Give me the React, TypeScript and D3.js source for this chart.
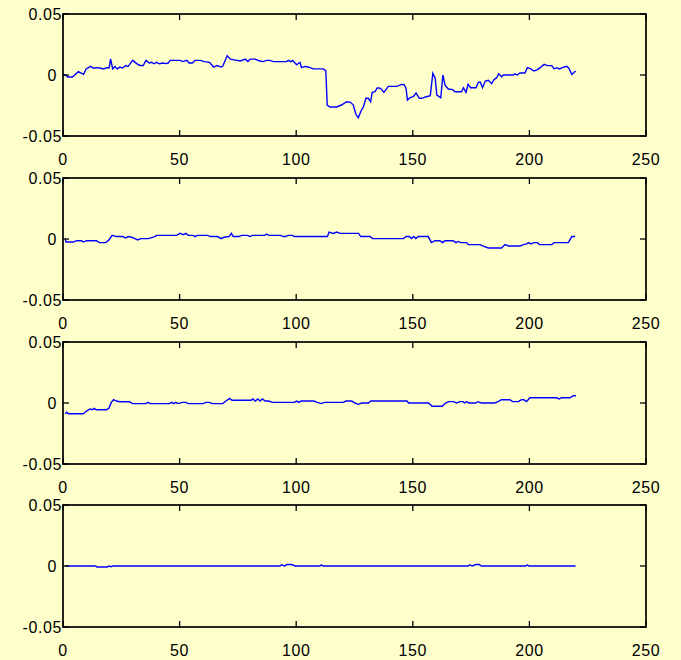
import * as d3 from "d3";

const xTicks = [0, 50, 100, 150, 200, 250];
const yTicks = [-0.05, 0, 0.05];
const yTickLabels = ["-0.05", "0", "0.05"];

const p1X = [0, 1, 2, 4, 6.6, 8.8, 9.9, 11.9, 13, 14.4, 16.1, 17.5, 18.7, 19.8, 20.4, 21.3, 22.3, 23.3, 24.4, 25.5, 26.9, 27.9, 28.6, 29.9, 31.6, 33, 34.4, 35.6, 37, 38, 39, 40.1, 41.3, 42.9, 44.2, 45.1, 45.9, 50.2, 51.3, 53.1, 54.1, 55.5, 56.6, 58.9, 60.6, 62.8, 64.6, 66.1, 67.8, 68.5, 70.4, 71.8, 74.6, 76, 78.2, 79.3, 80.3, 82.3, 84.4, 85.8, 87.3, 88.7, 90.2, 95.9, 96.6, 97.6, 98.5, 99.5, 100.2, 101.6, 102.3, 103.7, 105.1, 107.3, 111.6, 112.7, 113.3, 114.5, 117.3, 119.4, 121.6, 123.3, 124.5, 125.6, 126.6, 127.8, 128.8, 129.9, 130.9, 131.9, 132.6, 133.8, 134.8, 136.2, 137.6, 139.5, 143.1, 145.3, 146.3, 147.1, 147.7, 148.8, 150.2, 151.4, 152.8, 154, 155.4, 157.5, 158.6, 159.6, 160.3, 162, 162.9, 163.8, 165.2, 167.1, 168.1, 170.9, 171.7, 172.8, 173.7, 174.8, 177.1, 178.1, 179, 179.9, 181.1, 182.4, 183.8, 184.8, 186, 186.8, 188.1, 188.8, 193.1, 193.8, 194.8, 195.9, 198.1, 199.1, 200.2, 202, 203.4, 204.6, 206.3, 207.7, 209.6, 210.6, 211.7, 212.9, 214.9, 216, 216.9, 218.2, 218.9, 219.8];
const p1Y = [0, 0, -0.0016, -0.0016, 0.0027, 0.0006, 0.005, 0.0071, 0.0055, 0.006, 0.0055, 0.005, 0.006, 0.006, 0.0131, 0.005, 0.007, 0.005, 0.0065, 0.0057, 0.0078, 0.0071, 0.0087, 0.012, 0.0093, 0.0078, 0.0078, 0.012, 0.0098, 0.0104, 0.0092, 0.0104, 0.0092, 0.0098, 0.0093, 0.0098, 0.012, 0.012, 0.011, 0.012, 0.0098, 0.0098, 0.012, 0.012, 0.011, 0.0104, 0.0065, 0.0078, 0.0065, 0.0071, 0.0158, 0.013, 0.012, 0.0115, 0.013, 0.011, 0.013, 0.013, 0.0115, 0.011, 0.012, 0.012, 0.011, 0.011, 0.012, 0.011, 0.012, 0.0098, 0.0084, 0.0104, 0.006, 0.007, 0.0066, 0.005, 0.005, 0.0035, -0.0246, -0.0262, -0.0262, -0.0246, -0.0219, -0.0224, -0.0246, -0.0322, -0.035, -0.0295, -0.0262, -0.0191, -0.0191, -0.0219, -0.0142, -0.0137, -0.0104, -0.0109, -0.0142, -0.0093, -0.0093, -0.0077, -0.008, -0.0109, -0.0205, -0.0186, -0.0178, -0.0148, -0.0191, -0.0191, -0.018, -0.0169, 0.0014, -0.0027, -0.0164, -0.0186, 0, -0.0082, -0.0115, -0.012, -0.0137, -0.0137, -0.0104, -0.0142, -0.0077, -0.0104, -0.0104, -0.006, -0.006, -0.0104, -0.005, -0.0044, -0.0071, -0.0038, -0.0022, 0.0011, -0.0014, 0, 0, 0.001, 0, 0.0016, 0.0016, 0.006, 0.0055, 0.0033, 0.0044, 0.006, 0.0087, 0.0077, 0.0077, 0.005, 0.006, 0.005, 0.0066, 0.0071, 0.0055, 0.0005, 0.0016, 0.0033];

const p2X = [1, 1.3, 4.4, 5.9, 8, 8.7, 10.1, 14.4, 15.6, 18.3, 19.7, 21.1, 22.9, 25.7, 26.8, 27.9, 29.5, 30.9, 32, 33.4, 36.6, 39.4, 40.1, 48.7, 50.2, 51.6, 52.7, 53.7, 55.9, 56.6, 57.6, 61.9, 63.3, 66.2, 67.9, 69, 71.2, 72.2, 73, 75.5, 76.5, 79.1, 80.2, 81.2, 86.5, 87.3, 88.3, 93.3, 94.5, 95.5, 96.5, 98.4, 99.1, 113.4, 114.1, 115.9, 117.4, 118.8, 126.7, 127.7, 131.7, 132.7, 146, 147.2, 148.6, 149.4, 150.4, 151.3, 152.3, 156.6, 158, 159.5, 161.6, 162.8, 163.8, 167.3, 168.5, 169.5, 170.5, 173.1, 173.8, 178.8, 179.9, 182.4, 188.1, 189.5, 191, 196, 197.4, 198.9, 199.6, 200.6, 202, 203.4, 204.3, 209.6, 210.6, 216.7, 218.2, 219.6];
const p2Y = [0, -0.0025, -0.0025, -0.0014, -0.0014, -0.0025, -0.0014, -0.0014, -0.003, -0.003, -0.0008, 0.003, 0.002, 0.002, 0.0008, 0.002, 0.0014, 0.0003, -0.0008, 0.0003, 0.0003, 0.002, 0.003, 0.003, 0.0046, 0.0035, 0.0046, 0.003, 0.003, 0.002, 0.003, 0.003, 0.002, 0.002, 0.0003, 0.0014, 0.002, 0.0046, 0.002, 0.002, 0.003, 0.003, 0.002, 0.003, 0.003, 0.004, 0.003, 0.003, 0.002, 0.002, 0.003, 0.003, 0.002, 0.002, 0.0057, 0.0046, 0.0057, 0.0046, 0.0046, 0.002, 0.002, 0.0003, 0.0003, 0.002, 0.002, 0.0003, 0.002, 0.0003, 0.002, 0.002, -0.003, -0.0014, -0.0014, -0.003, -0.0014, -0.0014, -0.003, -0.002, -0.003, -0.003, -0.0046, -0.0046, -0.0057, -0.0074, -0.0074, -0.0046, -0.0057, -0.0057, -0.0046, -0.004, -0.003, -0.004, -0.003, -0.003, -0.0046, -0.0046, -0.003, -0.003, 0.002, 0.002];

const p3X = [0.9, 1.6, 2.3, 8.7, 10.1, 11.6, 12.6, 13.3, 14.2, 18.6, 19.7, 20.7, 21.7, 22.9, 24.3, 28.6, 29.7, 35.4, 36.4, 37.4, 45.7, 46.6, 47.5, 48.3, 49.3, 51.2, 52.7, 53.7, 60.1, 61.3, 62.8, 63.9, 68.5, 69.9, 71.4, 72.5, 80.7, 81.4, 82.5, 83.5, 84.5, 85.5, 86.7, 88.1, 89.9, 99.2, 100.2, 101.1, 102.1, 107.6, 109, 110.8, 112, 120.2, 121.3, 123.8, 125.2, 126.6, 128.1, 131, 132, 147.5, 148.2, 156.8, 158.3, 162.6, 164, 165.5, 167.6, 168.7, 170.2, 171.6, 172.2, 173.2, 174, 176.9, 177.9, 179.4, 185.1, 186.6, 188, 191.6, 192.8, 195.2, 196.6, 197.6, 198.8, 200.2, 211.6, 212.8, 213.8, 217.4, 218.8, 220];
const p3Y = [-0.0088, -0.0075, -0.0088, -0.0088, -0.0066, -0.0049, -0.0055, -0.0044, -0.0055, -0.0055, -0.0044, 0.0005, 0.0027, 0.0016, 0.001, 0.001, -0.0005, -0.0005, 0.0005, -0.0005, -0.0005, 0.0005, -0.0005, 0.0005, -0.0005, 0.0005, 0.0005, -0.0005, -0.0005, 0.0005, 0.0005, -0.0005, -0.0005, 0.0016, 0.0038, 0.0022, 0.0022, 0.0033, 0.0016, 0.0033, 0.0016, 0.0033, 0.0016, 0.0016, 0.0005, 0.0005, 0.0016, 0.0005, 0.0016, 0.0016, 0.0005, -0.0005, 0.0005, 0.0005, 0.0016, 0.0016, 0, -0.0011, 0, 0, 0.0016, 0.0016, 0, 0, -0.0027, -0.0027, 0, 0.0011, 0.0011, 0, 0.0011, 0.0011, 0, 0.0011, 0, 0, 0.0011, 0, 0, 0.0011, 0.0027, 0.0027, 0.0011, 0.0011, 0.0027, 0.0027, 0.0011, 0.0043, 0.0043, 0.0033, 0.0043, 0.0043, 0.006, 0.006];

const p4X = [1, 14, 14.5, 19, 19.8, 20.5, 21.5, 93, 93.8, 95, 96, 98, 99.5, 110.2, 110.8, 111.5, 173.8, 174.5, 175.5, 177, 178.5, 179.5, 198.5, 199.1, 199.8, 219.8];
const p4Y = [0, 0, -0.0008, -0.0008, 0, -0.0006, 0, 0, 0.001, 0, 0.0012, 0.0012, 0, 0, 0.001, 0, 0, 0.001, 0, 0.0012, 0.0012, 0, 0, 0.001, 0, 0];

const series = [
  { xs: p1X, ys: p1Y },
  { xs: p2X, ys: p2Y },
  { xs: p3X, ys: p3Y },
  { xs: p4X, ys: p4Y },
];

const width = 681, height = 660;
const left = 63, right = 646;
const panelTops = [14, 178, 342, 505];
const panelH = 122;
const tickLen = 6;
const font = "Arial, 'Liberation Sans', Helvetica, sans-serif";

const Panel = ({ xs, ys, top }: { xs: number[]; ys: number[]; top: number }) => {
  const x = d3.scaleLinear().domain([0, 250]).range([left, right]);
  const y = d3.scaleLinear().domain([-0.05, 0.05]).range([top + panelH, top]);
  const pts: [number, number][] = xs.map((v, i) => [v, ys[i]]);
  const line = d3.line<[number, number]>().x(d => x(d[0])).y(d => y(d[1]));
  const bottom = top + panelH;

  return (
    <g>
      <path d={line(pts) || ""} fill="none" stroke="#0000ff" strokeWidth={1.4} />
      <rect x={left} y={top} width={right - left} height={panelH} fill="none" stroke="#000" strokeWidth={1.7} />
      {xTicks.map(t => (
        <g key={"x" + t}>
          <line x1={x(t)} x2={x(t)} y1={bottom} y2={bottom - tickLen} stroke="#000" strokeWidth={1.3} />
          <line x1={x(t)} x2={x(t)} y1={top} y2={top + tickLen} stroke="#000" strokeWidth={1.3} />
          <text x={x(t)} y={bottom + 29} textAnchor="middle" fontSize={16} letterSpacing={0.6} fontFamily={font}>{t}</text>
        </g>
      ))}
      {yTicks.map((t, i) => (
        <g key={"y" + t}>
          <line x1={left} x2={left + tickLen} y1={y(t)} y2={y(t)} stroke="#000" strokeWidth={1.3} />
          <line x1={right} x2={right - tickLen} y1={y(t)} y2={y(t)} stroke="#000" strokeWidth={1.3} />
          <text x={t === 0 ? 57 : 62} y={y(t)} dy="0.35em" textAnchor="end" fontSize={16} letterSpacing={0.6} fontFamily={font}>{yTickLabels[i]}</text>
        </g>
      ))}
    </g>
  );
};

export default function App() {
  return (
    <svg width={width} height={height} style={{ position: "absolute", left: 0, top: 0, background: "#ffffcc" }}>
      <rect x={0} y={0} width={width} height={height} fill="#ffffcc" />
      {series.map((s, i) => (
        <Panel key={i} xs={s.xs} ys={s.ys} top={panelTops[i]} />
      ))}
    </svg>
  );
}
